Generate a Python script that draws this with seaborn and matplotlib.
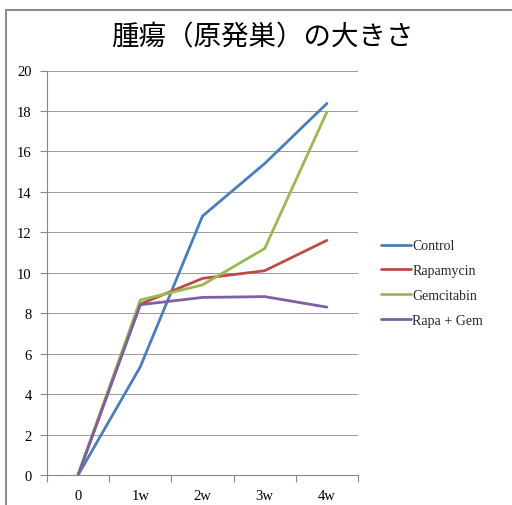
import matplotlib
matplotlib.use("Agg")
import matplotlib.pyplot as plt
from matplotlib.patches import Rectangle
import seaborn as sns
import pandas as pd

weeks = ["0", "1w", "2w", "3w", "4w"]
control = [0, 5.35, 12.8, 15.4, 18.37]
rapamycin = [0, 8.45, 9.72, 10.1, 11.6]
gemcitabin = [0, 8.65, 9.4, 11.2, 17.95]
rapa_gem = [0, 8.42, 8.78, 8.82, 8.3]

series_names = ["Control", "Rapamycin", "Gemcitabin", "Rapa + Gem"]
series_values = [control, rapamycin, gemcitabin, rapa_gem]
colors = ["#4A7EBB", "#BE4B48", "#98B954", "#7D60A0"]

rows = []
for name, vals in zip(series_names, series_values):
    for i, v in enumerate(vals):
        rows.append({"week": i, "size": v, "group": name})
df = pd.DataFrame(rows)

sns.set_theme(style="white")
plt.rcParams["font.family"] = ["Liberation Serif", "DejaVu Serif"]

fig = plt.figure(figsize=(5.12, 5.06), dpi=100)
ax = fig.add_axes([47 / 512, 1 - 476 / 506, (358 - 47) / 512, (476 - 71.5) / 506])

sns.lineplot(data=df, x="week", y="size", hue="group", palette=colors,
             hue_order=series_names, linewidth=2.0, ax=ax, legend=False)

ax.set_xlim(-0.5, 4.5)
ax.set_ylim(0, 20)
ax.set_yticks(range(0, 21, 2))
ax.set_xticks(range(5))
ax.set_xticklabels(weeks)
ax.set_xticks([x - 0.5 for x in range(6)], minor=True)
ax.tick_params(axis="x", which="major", length=0, labelsize=10.5, pad=10, colors="black")
ax.tick_params(axis="x", which="minor", length=5, width=0.8, color="#868686", bottom=True)
ax.tick_params(axis="y", which="major", length=5, width=0.8, color="#868686", left=True,
               labelsize=10.5, pad=6, labelcolor="black")
ax.grid(axis="y", color="#9a9a9a", linewidth=0.7)
ax.set_axisbelow(True)
ax.set_xlabel("")
ax.set_ylabel("")
for side in ["top", "right"]:
    ax.spines[side].set_visible(False)
for side in ["left", "bottom"]:
    ax.spines[side].set_color("#868686")
    ax.spines[side].set_linewidth(0.8)

handles = [plt.Line2D([], [], color=c, linewidth=2.0) for c in colors]
fig.legend(handles, series_names, loc="upper left",
           bbox_to_anchor=(368 / 512, 1 - 228 / 506), frameon=False,
           fontsize=10, handlelength=2.2, handletextpad=0.1, labelspacing=0.85)

fig.text(262 / 512, 1 - 38 / 506, "腫瘍（原発巣）の大きさ", ha="center", va="center",
         fontsize=19.8, family=["Noto Sans CJK JP", "DejaVu Sans"], color="black")

fig.patches.append(Rectangle((6 / 512, -0.1), 1.2, 1 - 11 / 506 + 0.1,
                             transform=fig.transFigure, fill=False,
                             edgecolor="#8c8c8c", linewidth=1.5))

fig.savefig("out.png", dpi=100)
